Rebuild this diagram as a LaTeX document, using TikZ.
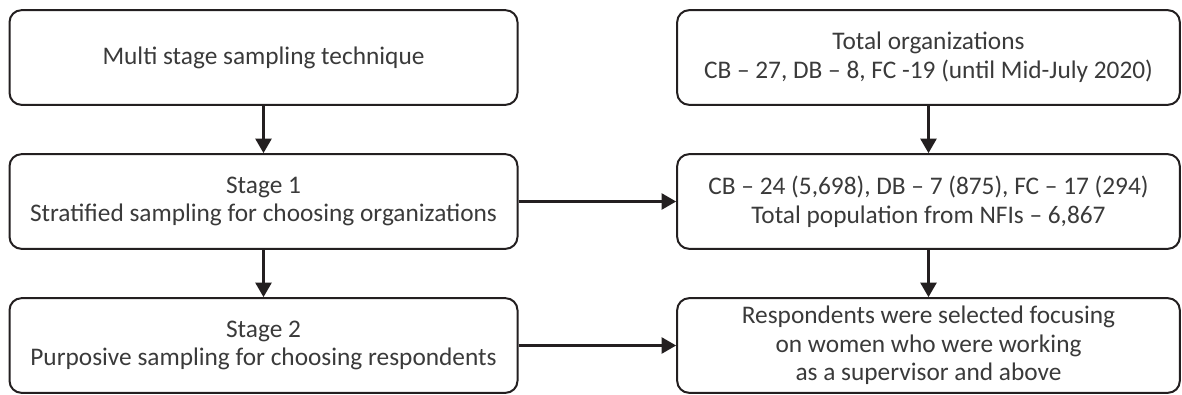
\documentclass[tikz,border=0pt]{standalone}
\usepackage{fontspec}
\setmainfont{Carlito}
\usepackage{tikz}
\usetikzlibrary{arrows.meta,positioning}

\definecolor{boxline}{HTML}{231F20}
\definecolor{boxtext}{HTML}{3A3A3A}

\begin{document}
\begin{tikzpicture}[
    x=0.75pt, y=-0.75pt,
    stagebox/.style={rectangle, rounded corners=9pt, draw=boxline, line width=1.5pt,
        minimum height=71pt, align=center, text=boxtext,
        font=\fontsize{19}{21.5}\selectfont, inner sep=2pt},
    leftbox/.style={stagebox, minimum width=381pt},
    rightbox/.style={stagebox, minimum width=377pt},
    flow/.style={-{Triangle[length=11pt,width=12pt]}, draw=boxline, line width=2.2pt}
]
    \useasboundingbox (0,0) rectangle (1182,394);

    % left column
    \node[leftbox] (technique) at (263.5,57.5) {Multi stage sampling technique};
    \node[leftbox] (stage1) at (263.5,201.5) {Stage 1\\Stratified sampling for choosing organizations};
    \node[leftbox] (stage2) at (263.5,345.5) {Stage 2\\Purposive sampling for choosing respondents};

    % right column
    \node[rightbox] (total) at (928.5,57.5) {Total organizations\\CB -- 27, DB -- 8, FC -19 (until Mid-July 2020)};
    \node[rightbox] (population) at (928.5,201.5) {CB -- 24 (5,698), DB -- 7 (875), FC -- 17 (294)\\Total population from NFIs -- 6,867};
    \node[rightbox] (respondents) at (928.5,345.5) {Respondents were selected focusing\\on women who were working\\as a supervisor and above};

    \draw[flow] (technique) -- (stage1);
    \draw[flow] (stage1) -- (stage2);
    \draw[flow] (total) -- (population);
    \draw[flow] (population) -- (respondents);
    \draw[flow] (stage1) -- (population);
    \draw[flow] (stage2) -- (respondents);
\end{tikzpicture}
\end{document}
